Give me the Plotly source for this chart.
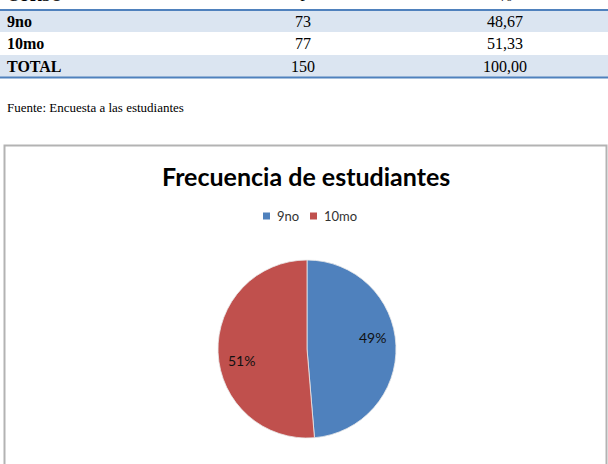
import math
import plotly.graph_objects as go

W, H = 608, 464

# Data
cursos = ["9no", "10mo"]
frecuencia = [73, 77]
porcentaje = ["48,67", "51,33"]
total_label = "TOTAL"
total_f = "150"
total_pct = "100,00"
header = ["CURSO", "f", "%"]
titulo = "Frecuencia de estudiantes"
fuente = "Fuente: Encuesta a las estudiantes"

BLUE = "#4F81BD"
RED = "#C0504D"
ROWBG = "#DBE5F1"
colors = [BLUE, RED]


def px(x):
    return x / W


def py(y):
    return 1 - y / H


shapes = []
annotations = []

# Table row backgrounds
shapes.append(dict(type="rect", xref="paper", yref="paper", x0=0, x1=1,
                   y0=py(32), y1=py(10), fillcolor=ROWBG, line_width=0, layer="below"))
shapes.append(dict(type="rect", xref="paper", yref="paper", x0=0, x1=1,
                   y0=py(77.5), y1=py(55), fillcolor=ROWBG, line_width=0, layer="below"))
# Table lines
for yl in (10, 77.5):
    shapes.append(dict(type="line", xref="paper", yref="paper", x0=0, x1=1,
                       y0=py(yl), y1=py(yl), line=dict(color=BLUE, width=2)))

serif = "Liberation Serif, Times New Roman, serif"
col_x = [5, 303, 505]

# Header row (mostly cut off at the top edge, as in the reference)
annotations.append(dict(text="<b>%s</b>" % header[0], x=px(col_x[0]), y=py(-4.5), xref="paper", yref="paper",
                        xanchor="left", yanchor="middle", showarrow=False,
                        font=dict(family=serif, size=16, color="#000")))
for i, t in enumerate(header[1:], start=1):
    annotations.append(dict(text=t, x=px(col_x[i]), y=py(-4.5), xref="paper", yref="paper",
                            xanchor="center", yanchor="middle", showarrow=False,
                            font=dict(family=serif, size=16, color="#000")))

rows = [(cursos[0], str(frecuencia[0]), porcentaje[0]),
        (cursos[1], str(frecuencia[1]), porcentaje[1]),
        (total_label, total_f, total_pct)]
row_y = [21.5, 43.5, 66]
for (c, f, p), yy in zip(rows, row_y):
    annotations.append(dict(text="<b>%s</b>" % c, x=px(col_x[0]), y=py(yy), xref="paper", yref="paper",
                            xanchor="left", yanchor="middle", showarrow=False,
                            font=dict(family=serif, size=16, color="#000")))
    annotations.append(dict(text=f, x=px(col_x[1]), y=py(yy), xref="paper", yref="paper",
                            xanchor="center", yanchor="middle", showarrow=False,
                            font=dict(family=serif, size=16, color="#000")))
    annotations.append(dict(text=p, x=px(col_x[2]), y=py(yy), xref="paper", yref="paper",
                            xanchor="center", yanchor="middle", showarrow=False,
                            font=dict(family=serif, size=16, color="#000")))

# Fuente
annotations.append(dict(text=fuente, x=px(5), y=py(108), xref="paper", yref="paper",
                        xanchor="left", yanchor="middle", showarrow=False,
                        font=dict(family=serif, size=13, color="#000")))

# Chart box border
shapes.append(dict(type="rect", xref="paper", yref="paper", x0=px(4.5), x1=px(606.5),
                   y0=py(470), y1=py(145.5), line=dict(color="#B3B3B3", width=2),
                   fillcolor="rgba(0,0,0,0)"))

sans = "Lato, Open Sans, sans-serif"

# Title
annotations.append(dict(text="<b>%s</b>" % titulo, x=px(306), y=py(176), xref="paper", yref="paper",
                        xanchor="center", yanchor="middle", showarrow=False,
                        font=dict(family=sans, size=25, color="#000")))

# Legend (compact, Excel-like)
leg_items = [(263, 275), (310, 322)]
for (sx, tx), name, col in zip(leg_items, cursos, colors):
    shapes.append(dict(type="rect", xref="paper", yref="paper", x0=px(sx), x1=px(sx + 7),
                       y0=py(219.5), y1=py(212.5), fillcolor=col, line_width=0))
    annotations.append(dict(text=name, x=px(tx), y=py(216), xref="paper", yref="paper",
                            xanchor="left", yanchor="middle", showarrow=False,
                            font=dict(family=sans, size=13, color="#333")))

# Pie geometry
cx, cy, R = 307, 349, 89
fig = go.Figure(go.Pie(
    labels=cursos,
    values=frecuencia,
    sort=False,
    direction="clockwise",
    rotation=0,
    marker=dict(colors=colors, line=dict(color="#E8E8E8", width=0.8)),
    textinfo="none",
    domain=dict(x=[px(cx - R), px(cx + R)], y=[py(cy + R), py(cy - R)]),
    hoverinfo="label+percent",
    showlegend=False,
))

# Percentage labels placed inside each slice (Excel best-fit style)
tot = sum(frecuencia)
cum = 0
for v in frecuencia:
    mid = (cum + v / 2) / tot * 360 - 8
    cum += v
    r = 0.745 * R
    lx = cx + r * math.sin(math.radians(mid))
    ly = cy - r * math.cos(math.radians(mid))
    annotations.append(dict(text="%d%%" % round(v / tot * 100), x=px(lx), y=py(ly),
                            xref="paper", yref="paper", xanchor="center", yanchor="middle",
                            showarrow=False, font=dict(family=sans, size=14, color="#111")))

fig.update_layout(
    width=W, height=H,
    margin=dict(l=0, r=0, t=0, b=0),
    paper_bgcolor="white",
    plot_bgcolor="white",
    shapes=shapes,
    annotations=annotations,
    showlegend=False,
)

fig.write_html("out.html")
